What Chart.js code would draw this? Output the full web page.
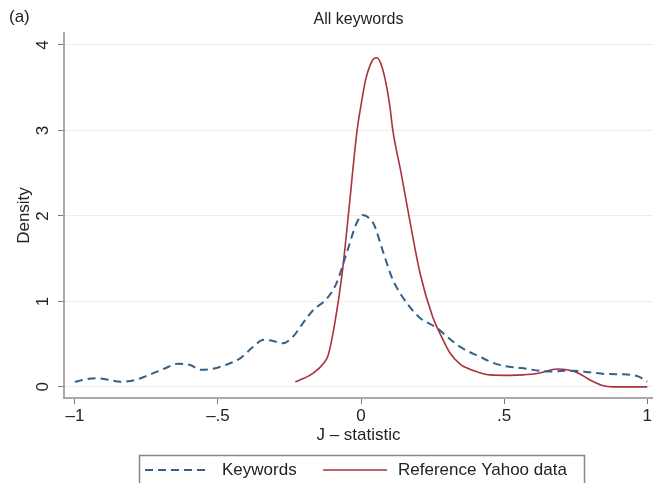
<!DOCTYPE html>
<html>
<head>
<meta charset="utf-8">
<script src="https://cdn.jsdelivr.net/npm/chart.js@4/dist/chart.umd.min.js"></script>
<style>
  html, body { margin: 0; padding: 0; background: #fff; }
  canvas { display: block; }
</style>
</head>
<body>
<canvas id="chart" width="654" height="483"></canvas>
<script>
// J-statistic densities
const kwX = [-1.00, -0.95, -0.92, -0.88, -0.84, -0.79, -0.74, -0.69, -0.64, -0.60, -0.56, -0.52, -0.47, -0.42, -0.38, -0.34, -0.31, -0.275, -0.24, -0.20, -0.167, -0.12, -0.085, -0.05, -0.015, 0.005, 0.03, 0.045, 0.075, 0.11, 0.16, 0.205, 0.265, 0.30, 0.345, 0.41, 0.48, 0.56, 0.66, 0.74, 0.80, 0.86, 0.93, 0.97, 1.00];
const kwY = [0.06, 0.095, 0.10, 0.08, 0.06, 0.08, 0.14, 0.21, 0.27, 0.26, 0.20, 0.21, 0.26, 0.34, 0.46, 0.55, 0.54, 0.51, 0.58, 0.76, 0.90, 1.03, 1.22, 1.57, 1.92, 2.01, 1.97, 1.90, 1.60, 1.26, 0.98, 0.81, 0.69, 0.59, 0.47, 0.36, 0.26, 0.22, 0.18, 0.19, 0.17, 0.15, 0.145, 0.12, 0.06];

const refX = [-0.23, -0.20, -0.167, -0.13, -0.115, -0.09, -0.066, -0.045, -0.014, 0.0, 0.015, 0.03, 0.045, 0.055, 0.068, 0.084, 0.10, 0.111, 0.14, 0.17, 0.206, 0.25, 0.275, 0.31, 0.345, 0.37, 0.41, 0.45, 0.52, 0.564, 0.62, 0.686, 0.72, 0.76, 0.80, 0.84, 0.88, 1.00];
const refY = [0.06, 0.10, 0.16, 0.28, 0.37, 0.78, 1.33, 1.99, 3.0, 3.3, 3.58, 3.75, 3.84, 3.85, 3.79, 3.6, 3.3, 3.0, 2.5, 1.95, 1.33, 0.82, 0.63, 0.40, 0.27, 0.22, 0.17, 0.14, 0.135, 0.14, 0.16, 0.21, 0.20, 0.16, 0.08, 0.02, 0.0, 0.0];

const xTicks = [-1, -0.5, 0, 0.5, 1];
const xTickLabels = ['\u20131', '\u2013.5', '0', '.5', '1'];
const yTicks = [0, 1, 2, 3, 4];
const yTickLabels = ['0', '1', '2', '3', '4'];

const seriesLabels = ['Keywords', 'Reference Yahoo data'];

const FONT = '"Liberation Sans", Arial, Helvetica, sans-serif';
const BLUE = '#34608c';
const RED = '#a8323e';

function toPoints(xs, ys) {
    return xs.map((x, i) => ({ x: x, y: ys[i] }));
}

// title and panel letter
const textPlugin = {
    id: 'textPlugin',
    afterDraw(chart) {
        const ctx = chart.ctx;
        const area = chart.chartArea;
        ctx.save();
        ctx.fillStyle = '#222';
        ctx.textBaseline = 'middle';
        ctx.font = '16px ' + FONT;
        ctx.textAlign = 'center';
        ctx.fillText('All keywords', (area.left + area.right) / 2, 20);
        ctx.font = '17px ' + FONT;
        ctx.textAlign = 'left';
        ctx.fillText('(a)', 9, 17);
        ctx.restore();
    }
};

// boxed legend under the axis
const boxLegend = {
    id: 'boxLegend',
    afterDraw(chart) {
        const ctx = chart.ctx;
        const items = [
            { x: 145, w: 65, tx: 222 },
            { x: 323, w: 64, tx: 398 }
        ];
        ctx.save();
        ctx.strokeStyle = '#888';
        ctx.lineWidth = 1.5;
        ctx.strokeRect(139.5, 455.5, 445, 40);
        const y = 470;
        chart.data.datasets.forEach((ds, i) => {
            const it = items[i];
            ctx.strokeStyle = ds.borderColor;
            ctx.lineWidth = ds.borderWidth;
            ctx.setLineDash(ds.borderDash || []);
            ctx.beginPath();
            ctx.moveTo(it.x, y);
            ctx.lineTo(it.x + it.w, y);
            ctx.stroke();
            ctx.setLineDash([]);
            ctx.fillStyle = '#222';
            ctx.font = '17px ' + FONT;
            ctx.textAlign = 'left';
            ctx.textBaseline = 'middle';
            ctx.fillText(ds.label, it.tx, y);
        });
        ctx.restore();
    }
};

const ctx = document.getElementById('chart').getContext('2d');

new Chart(ctx, {
    type: 'line',
    data: {
        datasets: [
            {
                label: seriesLabels[0],
                data: toPoints(kwX, kwY),
                borderColor: BLUE,
                borderWidth: 2,
                borderDash: [8, 5],
                pointRadius: 0,
                cubicInterpolationMode: 'monotone',
                fill: false
            },
            {
                label: seriesLabels[1],
                data: toPoints(refX, refY),
                borderColor: RED,
                borderWidth: 1.6,
                pointRadius: 0,
                cubicInterpolationMode: 'monotone',
                fill: false
            }
        ]
    },
    options: {
        responsive: false,
        animation: false,
        layout: {
            padding: { left: 0, right: 0, top: 33, bottom: 35 }
        },
        plugins: {
            legend: { display: false },
            title: { display: false },
            tooltip: { enabled: false }
        },
        scales: {
            x: {
                type: 'linear',
                min: -1.038,
                max: 1.02,
                afterBuildTicks: (scale) => {
                    scale.ticks = xTicks.map(v => ({ value: v }));
                },
                afterFit: (scale) => { scale.height = 50; },
                border: { color: '#a8a8a8', width: 2 },
                grid: {
                    drawOnChartArea: false,
                    drawTicks: true,
                    tickLength: 6,
                    tickColor: '#777'
                },
                ticks: {
                    padding: 2,
                    color: '#222',
                    font: { family: FONT, size: 17 },
                    maxRotation: 0,
                    callback: (v) => {
                        const i = xTicks.indexOf(v);
                        return i >= 0 ? xTickLabels[i] : '';
                    }
                },
                title: {
                    display: true,
                    text: 'J \u2013 statistic',
                    color: '#222',
                    font: { family: FONT, size: 17 },
                    padding: { top: 0, bottom: 2 }
                }
            },
            y: {
                type: 'linear',
                min: -0.13,
                max: 4.14,
                afterBuildTicks: (scale) => {
                    scale.ticks = yTicks.map(v => ({ value: v }));
                },
                afterFit: (scale) => { scale.width = 64; },
                border: { color: '#a8a8a8', width: 2 },
                grid: {
                    color: '#ececec',
                    lineWidth: 1,
                    drawTicks: true,
                    tickLength: 6,
                    tickColor: '#777'
                },
                ticks: {
                    padding: 10,
                    color: '#222',
                    crossAlign: 'center',
                    minRotation: 90,
                    maxRotation: 90,
                    font: { family: FONT, size: 17 },
                    callback: (v) => {
                        const i = yTicks.indexOf(v);
                        return i >= 0 ? yTickLabels[i] : '';
                    }
                },
                title: {
                    display: true,
                    text: 'Density',
                    color: '#222',
                    font: { family: FONT, size: 17 },
                    padding: { top: 14, bottom: 0 }
                }
            }
        }
    },
    plugins: [textPlugin, boxLegend]
});
</script>
</body>
</html>
